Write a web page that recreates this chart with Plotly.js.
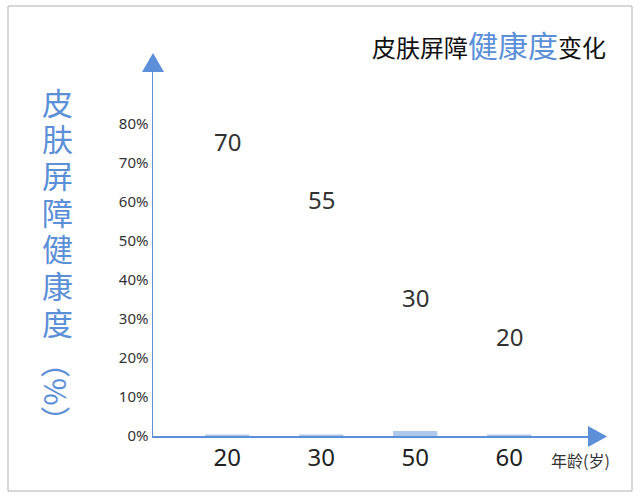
<!DOCTYPE html>
<html><head><meta charset="utf-8">
<script src="https://cdn.plot.ly/plotly-3.0.1.min.js"></script>
<style>html,body{margin:0;padding:0;background:#fff}#chart{width:640px;height:496px}</style>
</head><body><div id="chart"></div>
<script>
// data
const ages = ["20", "30", "50", "60"];
const health = [70, 55, 30, 20];           // final bar values (labels)
const barVisible = [0.4, 0.4, 1.3, 0.4];   // bars as drawn in the frame (nearly flat)
const yTickVals = [0, 10, 20, 30, 40, 50, 60, 70, 80];
const yTickText = ["0%", "10%", "20%", "30%", "40%", "50%", "60%", "70%", "80%"];
const yTitleChars = ["皮", "肤", "屏", "障", "健", "康", "度"];
const yTitleTail = "（%）";
const xUnit = "年龄(岁)";

const BLUE = "#5b8fd8";
const W = 640, H = 496;
const L = 153, R = 590, T = 70, B = 436;
const pw = R - L, ph = B - T;
const px = v => (v - L) / pw;
const py = v => (B - v) / ph;

const traces = [{
  type: "bar", x: ages, y: barVisible, width: 0.47,
  marker: {color: "rgba(110,155,220,0.55)", line: {width: 0}},
  hoverinfo: "skip", showlegend: false
}];

const annotations = [];
health.forEach((v, i) => annotations.push({
  x: i, y: v, xref: "x", yref: "y", text: String(v), showarrow: false,
  yshift: 22, font: {family: "Noto Sans, sans-serif", size: 24, color: "#333"}
}));
yTitleChars.forEach((c, i) => annotations.push({
  xref: "paper", yref: "paper", x: px(57), y: py(101 + i * 36.7),
  xanchor: "center", yanchor: "middle", text: c, showarrow: false,
  font: {family: "Noto Sans CJK SC", size: 31, color: BLUE}
}));
annotations.push({
  xref: "paper", yref: "paper", x: px(57), y: py(392),
  xanchor: "center", yanchor: "middle", text: yTitleTail, showarrow: false, textangle: 90,
  font: {family: "Noto Sans CJK SC", size: 30, color: BLUE}
});
annotations.push({
  xref: "paper", yref: "paper", x: px(612), y: py(460),
  xanchor: "right", yanchor: "middle", text: xUnit, showarrow: false,
  font: {family: "Noto Sans CJK SC", size: 16, color: "#333"}
});
annotations.push({
  xref: "paper", yref: "paper", x: px(608), y: py(44),
  xanchor: "right", yanchor: "middle", showarrow: false,
  text: '皮肤屏障<span style="color:' + BLUE + ';font-size:30px">健康度</span>变化',
  font: {family: "Noto Sans CJK SC", size: 24, color: "#111"}
});

const shapes = [
  {type: "path", xref: "paper", yref: "paper",
   path: `M ${px(142)} ${py(72)} L ${px(164)} ${py(72)} L ${px(153)} ${py(53)} Z`,
   fillcolor: BLUE, line: {width: 0}},
  {type: "path", xref: "paper", yref: "paper",
   path: `M ${px(588)} ${py(426)} L ${px(588)} ${py(447)} L ${px(607)} ${py(436.5)} Z`,
   fillcolor: BLUE, line: {width: 0}},
  {type: "rect", xref: "paper", yref: "paper",
   x0: px(8), x1: px(632), y0: py(6), y1: py(491),
   line: {color: "#b0b0b0", width: 1}, fillcolor: "rgba(0,0,0,0)", layer: "below"}
];

const layout = {
  width: W, height: H,
  margin: {l: L, r: W - R, t: T, b: H - B, pad: 0},
  paper_bgcolor: "#fff", plot_bgcolor: "#fff",
  showlegend: false,
  xaxis: {
    type: "category", range: [-0.79, 3.86], showgrid: false, zeroline: false,
    showline: true, linecolor: BLUE, linewidth: 1.5, ticks: "",
    tickfont: {family: "Noto Sans, sans-serif", size: 24, color: "#222"}
  },
  yaxis: {
    range: [0, ph / 3.9], showgrid: false, zeroline: false,
    showline: true, linecolor: BLUE, linewidth: 1.5, ticks: "",
    tickvals: yTickVals, ticktext: yTickText,
    tickfont: {family: "Noto Sans, sans-serif", size: 15, color: "#333"}
  },
  annotations, shapes
};
Plotly.newPlot("chart", traces, layout, {displayModeBar: false, staticPlot: true});
</script></body></html>
